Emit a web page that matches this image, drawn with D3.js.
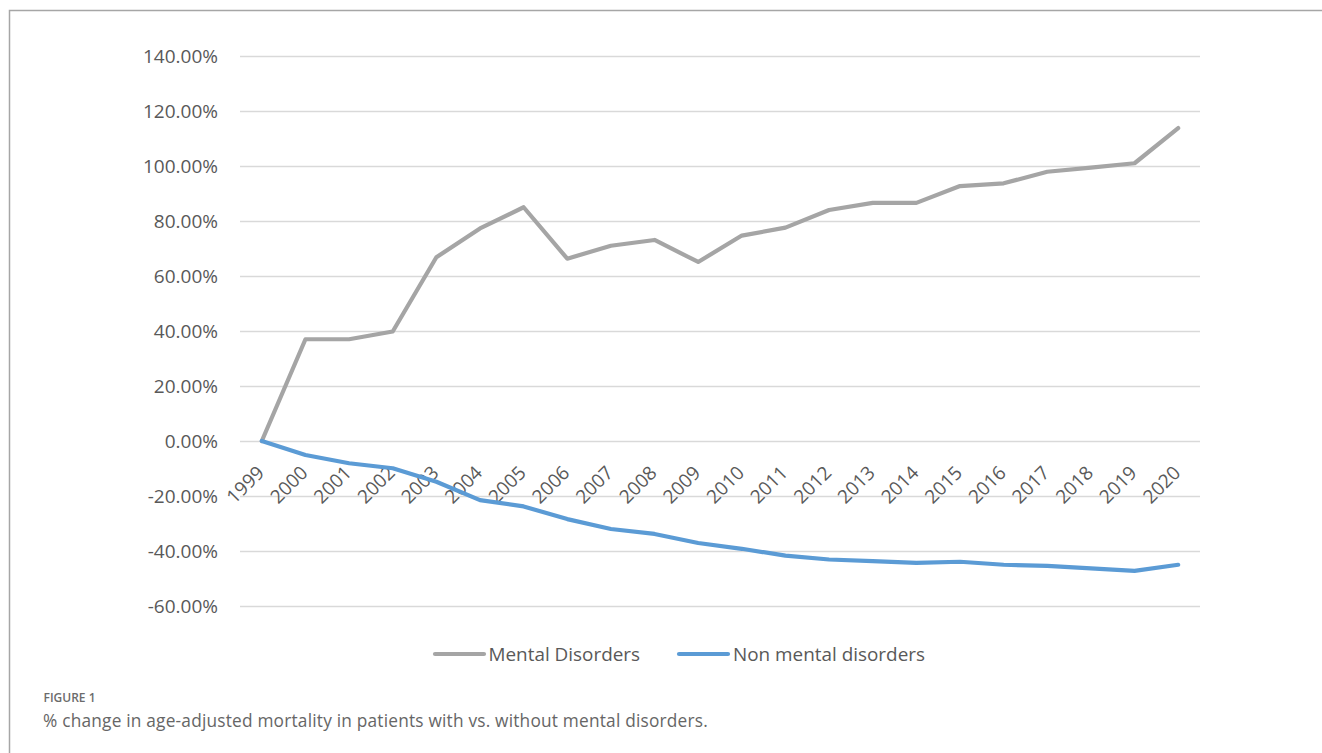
<!DOCTYPE html>
<html><head><meta charset="utf-8">
<script src="https://cdn.jsdelivr.net/npm/d3@7"></script>
<style>
html,body{margin:0;padding:0;background:#fff;}
svg{display:block;}
</style></head>
<body>
<script>
const years = ["1999","2000","2001","2002","2003","2004","2005","2006","2007","2008","2009","2010","2011","2012","2013","2014","2015","2016","2017","2018","2019","2020"];
const mentalDisorders = [0,37.0,37.0,39.8,66.8,77.3,85.0,66.3,71.0,73.1,65.1,74.7,77.6,84.0,86.6,86.6,92.7,93.7,97.9,99.4,101.0,113.8];
const nonMentalDisorders = [0,-5.1,-8.1,-9.9,-14.8,-21.5,-23.8,-28.4,-32.0,-33.8,-37.1,-39.2,-41.7,-43.1,-43.7,-44.3,-43.9,-45.0,-45.4,-46.3,-47.2,-45.0];
const yTicks = [-60,-40,-20,0,20,40,60,80,100,120,140];
const seriesNames = ["Mental Disorders","Non mental disorders"];
const seriesColors = ["#a5a5a5","#5b9bd5"];
const figureLabel = "FIGURE 1";
const captionText = "% change in age-adjusted mortality in patients with vs. without mental disorders.";

const W = 1322, H = 753;
const svg = d3.select("body").append("svg").attr("width", W).attr("height", H);
const font = "'Open Sans', sans-serif";

// frame
svg.append("path").attr("d", `M9.5,${H} L9.5,10.5 L${W},10.5`).attr("fill","none").attr("stroke","#a6a6a6").attr("stroke-width",1.5);

const x = d3.scaleBand().domain(years).range([240,1200]);
const y = d3.scaleLinear().domain([-60,140]).range([606,56]);
const xc = d => x(d) + x.bandwidth()/2;

// gridlines + y labels
const yAxis = d3.axisLeft(y).tickValues(yTicks).tickSize(-(1200-240)).tickPadding(22)
  .tickFormat(d => d.toFixed(2) + "%");
const gy = svg.append("g").attr("transform","translate(240,0)").call(yAxis);
gy.select(".domain").remove();
gy.selectAll(".tick line").attr("stroke","#d9d9d9").attr("stroke-width",1.3);
gy.selectAll(".tick text").attr("fill","#595959").attr("font-family",font).attr("font-size","19px");

// x labels
const gx = svg.append("g");
gx.selectAll("text").data(years).join("text")
  .attr("transform", d => `translate(${xc(d)+3.5},${y(0)+33}) rotate(-45)`)
  .attr("text-anchor","end")
  .attr("fill","#595959").attr("font-family",font).attr("font-size","19px")
  .text(d => d);

// lines
const line = d3.line().x((d,i) => xc(years[i])).y(d => y(d));
[mentalDisorders, nonMentalDisorders].forEach((s,k) => {
  svg.append("path").datum(s).attr("d", line).attr("fill","none")
    .attr("stroke", seriesColors[k]).attr("stroke-width",4.2)
    .attr("stroke-linejoin","round").attr("stroke-linecap","round");
});

// legend
const legendItems = [{x:435, tx:488.5},{x:679, tx:733}];
legendItems.forEach((it,k) => {
  svg.append("line").attr("x1",it.x).attr("x2",it.x+49).attr("y1",654).attr("y2",654)
    .attr("stroke",seriesColors[k]).attr("stroke-width",4.2).attr("stroke-linecap","round");
  svg.append("text").attr("x",it.tx).attr("y",661).attr("fill","#595959")
    .attr("font-family",font).attr("font-size","18.9px").text(seriesNames[k]);
});

// caption
svg.append("text").attr("x",43.5).attr("y",701.5).attr("fill","#6b6b6b").attr("font-family",font)
  .attr("font-size","12px").attr("font-weight",600).text(figureLabel);
svg.append("text").attr("x",43).attr("y",726.5).attr("fill","#666").attr("font-family",font)
  .attr("font-size","17.3px").attr("letter-spacing","0.2px").text(captionText);
</script>
</body></html>
